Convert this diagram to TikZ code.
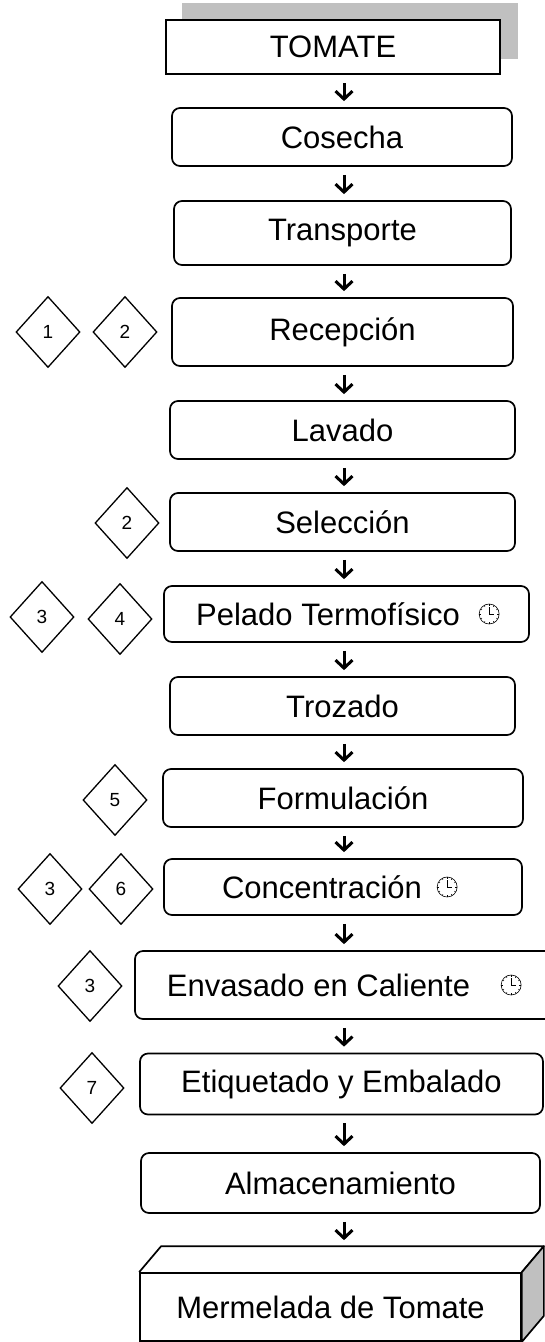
\documentclass[tikz,border=0pt]{standalone}
\usepackage{fontspec}
\setmainfont{Liberation Sans}
\usepackage{tikz}
\definecolor{sombra}{HTML}{C0C0C0}
\tikzstyle{proc} = [draw, rounded corners=8pt, line width=1.7pt,
    inner sep=0pt, font=\fontsize{31}{36}\selectfont]
\tikzstyle{materia} = [draw, line width=2pt, fill=white, inner sep=0pt,
    font=\fontsize{31}{36}\selectfont]
\tikzstyle{pcc} = [draw, diamond, line width=1.3pt, inner sep=0pt,
    minimum width=64pt, minimum height=71pt, font=\fontsize{19}{22}\selectfont]
\usetikzlibrary{arrows.meta}
\usetikzlibrary{shapes.geometric}
\usetikzlibrary{backgrounds}
\tikzset{>={Straight Barb[length=8pt,width=17pt,line width=3pt]}}
\tikzset{flow/.style={->, line width=3pt, shorten <=8pt, shorten >=6pt}}
\tikzset{reloj/.pic={
    \draw[line width=0.6pt] (0,0) circle[radius=10];
    \foreach \t in {0,30,...,330}
        {\draw[line width=0.5pt] (\t:8.3) -- (\t:10);}
    \draw[line width=0.8pt] (0,0) -- (0,-7) (0,0) -- (5,0);
}}
\begin{document}
\begin{tikzpicture}[x=1pt,y=-1pt]
    \useasboundingbox (0,0) rectangle (545,1342);
    \coordinate (arrx) at (344,0);   %arrow column
    %raw material
    \node[materia, minimum width=334pt, minimum height=54pt] (tom) at (333,47) {TOMATE};
    \begin{scope}[on background layer]
    \fill[sombra] ([shift={(17,-16)}]tom.south west) rectangle ([shift={(17,-16)}]tom.north east);
    \end{scope}
    %process steps
    \foreach \name/\x/\y/\w/\h/\txt in {
        cos/342/137/340/58/Cosecha,
        trans/342.5/233/337/64/Transporte,
        recep/342.5/332/341/68/Recepción,
        lav/342.5/430/345/58/Lavado,
        sel/342.5/522/345/58/Selección,
        pel/346.5/614/365/56/Pelado Termofísico\hspace*{37pt},
        troz/342.5/706/345/58/Trozado,
        form/343/798/360/58/Formulación,
        conc/343/887/358/56/Concentración\hspace*{42pt},
        env/344/985/418/68/Envasado en Caliente\hspace*{51pt},
        etiq/341.5/1084/403/61/Etiquetado y Embalado,
        alm/340.5/1183/399/60/Almacenamiento}
    {\node[proc, minimum width=\w pt, minimum height=\h pt] (\name) at (\x,\y) {\txt};}
    %clocks
    \pic at ([xshift=326pt]pel.west) {reloj};
    \pic at ([xshift=284pt]conc.west) {reloj};
    \pic at ([xshift=377pt]env.west) {reloj};
    %final product
    \node[materia, line width=1.7pt, minimum width=381pt, minimum height=68pt] (mer) at (330.5,1307) {Mermelada de Tomate};
    \draw[line width=1.7pt, line join=round] (mer.north west) -- ++(22,-26)
        -- ([shift={(22,-26)}]mer.north east) -- (mer.north east);
    \filldraw[fill=sombra, line width=1.7pt, line join=round] (mer.north east) -- ++(22,-26)
        -- ([shift={(22,-26)}]mer.south east) -- (mer.south east) -- cycle;
    \coordinate (mertop) at ([yshift=26pt]mer.north);
    %control points
    \foreach \name/\x/\y/\num in {
        pa/48/332/1, pb/125/332/2, pc/127/523/2,
        pd/42/617/3, pe/120/619/4, pf/115/800/5,
        pg/50/889/3, ph/121/889/6, pi/90/986/3, pj/92/1088/7}
    {\node[pcc] (\name) at (\x,\y) {\num};}
    %arrows
    \foreach \from/\to in {tom/cos, cos/trans, trans/recep, recep/lav, lav/sel,
        sel/pel, pel/troz, troz/form, form/conc, conc/env, env/etiq, etiq/alm}
    {\draw[flow] (\from.south -| arrx) -- (\to.north -| arrx);}
    \draw[flow] (alm.south -| arrx) -- (mertop -| arrx);
\end{tikzpicture}
\end{document}
